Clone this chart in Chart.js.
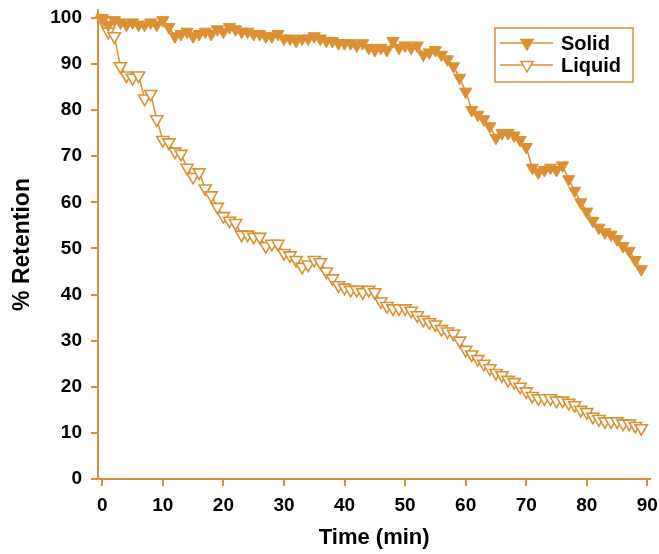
<!DOCTYPE html>
<html>
<head>
<meta charset="utf-8">
<title>% Retention vs Time</title>
<script src="https://cdn.jsdelivr.net/npm/chart.js@4.4.0/dist/chart.umd.min.js"></script>
<style>
    html, body { margin: 0; padding: 0; background: #fff; }
    #wrap { width: 659px; height: 554px; }
</style>
</head>
<body>
<div id="wrap"><canvas id="retentionChart" width="659" height="554"></canvas></div>
<script>
// Data (time in minutes, % retention)
const times = [
    0, 1, 2, 3, 4, 5, 6, 7, 8, 9,
    10, 11, 12, 13, 14, 15, 16, 17, 18, 19,
    20, 21, 22, 23, 24, 25, 26, 27, 28, 29,
    30, 31, 32, 33, 34, 35, 36, 37, 38, 39,
    40, 41, 42, 43, 44, 45, 46, 47, 48, 49,
    50, 51, 52, 53, 54, 55, 56, 57, 58, 59,
    60, 61, 62, 63, 64, 65, 66, 67, 68, 69,
    70, 71, 72, 73, 74, 75, 76, 77, 78, 79,
    80, 81, 82, 83, 84, 85, 86, 87, 88, 89
];
const solid = [
    100, 98.5, 99.5, 99, 98.5, 99, 98.5, 98.5, 99, 98.5,
    99.5, 98, 96, 96.5, 97, 96, 96.5, 97, 96.5, 97.5,
    97, 98, 97.5, 97, 97, 96.5, 96.5, 96, 96, 96.5,
    95.5, 95.5, 95, 95.5, 95.5, 96, 95.5, 95, 95, 94.5,
    94.5, 94.5, 94, 94.5, 93.5, 93, 93.5, 93, 95, 93.5,
    94, 93.5, 94, 92, 92.5, 93, 92, 91, 89.5, 87,
    84, 80, 79, 78, 76.5, 74, 75, 75, 74.5, 73.5,
    72, 67.5, 66.5, 67, 67.5, 67, 68, 65, 62.5, 60,
    58, 56, 54.5, 53.5, 53, 52, 50.5, 49.5, 47.5, 45.5
];
const liquid = [
    99.5, 97, 96, 89.5, 87.5, 87, 87.5, 82.5, 83.5, 78,
    73.5, 73, 71, 70.5, 67.5, 65.5, 66.5, 63, 61.5, 59,
    57, 56, 55.5, 53, 53, 52.5, 52.5, 50.5, 51, 51,
    49, 48.5, 47.5, 46, 46.5, 47.5, 47, 45, 43.5, 42,
    41.5, 41, 41, 40.5, 41, 40.5, 38.5, 37.5, 37, 37,
    37, 36.5, 35.5, 34.5, 34, 33.5, 32.5, 32, 31.5, 30,
    28, 27, 26, 25, 24, 23, 22.5, 21.5, 21, 20,
    19, 18, 17.5, 17.5, 17.5, 17, 17, 16.5, 16, 15,
    14.5, 13.5, 13, 12.5, 12.5, 12.5, 12, 12, 11.5, 11
];
const xTicks = [0, 10, 20, 30, 40, 50, 60, 70, 80, 90];
const yTicks = [0, 10, 20, 30, 40, 50, 60, 70, 80, 90, 100];

const orange = '#dc9034';
const fontFamily = '"Liberation Sans", Arial, Helvetica, sans-serif';

function toPoints(values) {
    return values.map((v, i) => ({ x: times[i], y: v }));
}

// Boxed legend with line + marker samples, drawn top right
const boxLegend = {
    id: 'boxLegend',
    afterDraw(chart) {
        const ctx = chart.ctx;
        const x0 = 495, y0 = 28, w = 138, h = 54;
        ctx.save();
        ctx.fillStyle = '#fff';
        ctx.fillRect(x0, y0, w, h);
        ctx.strokeStyle = orange;
        ctx.lineWidth = 1.5;
        ctx.strokeRect(x0, y0, w, h);

        chart.data.datasets.forEach((ds, i) => {
            const y = 43 + i * 22;
            ctx.strokeStyle = ds.borderColor;
            ctx.lineWidth = 1.5;
            ctx.beginPath();
            ctx.moveTo(500, y);
            ctx.lineTo(553, y);
            ctx.stroke();

            // down-pointing triangle like the data markers
            const r = 7, cx = 527;
            ctx.beginPath();
            ctx.moveTo(cx, y + r);
            ctx.lineTo(cx - r * 0.866, y - r / 2);
            ctx.lineTo(cx + r * 0.866, y - r / 2);
            ctx.closePath();
            ctx.fillStyle = ds.pointBackgroundColor;
            ctx.fill();
            ctx.strokeStyle = ds.pointBorderColor;
            ctx.lineWidth = 1.5;
            ctx.stroke();

            ctx.fillStyle = '#000';
            ctx.font = 'bold 20px ' + fontFamily;
            ctx.textBaseline = 'middle';
            ctx.textAlign = 'left';
            ctx.fillText(ds.label, 561, y + 1);
        });
        ctx.restore();
    }
};

const ctx = document.getElementById('retentionChart').getContext('2d');
new Chart(ctx, {
    type: 'line',
    data: {
        datasets: [
            {
                label: 'Solid',
                data: toPoints(solid),
                borderColor: orange,
                borderWidth: 1.5,
                pointStyle: 'triangle',
                rotation: 180,
                pointRadius: 7,
                pointBorderWidth: 1,
                pointBackgroundColor: orange,
                pointBorderColor: orange,
                clip: false,
                order: 1
            },
            {
                label: 'Liquid',
                data: toPoints(liquid),
                borderColor: orange,
                borderWidth: 1.5,
                pointStyle: 'triangle',
                rotation: 180,
                pointRadius: 7,
                pointBorderWidth: 1.6,
                pointBackgroundColor: '#fff',
                pointBorderColor: orange,
                clip: false,
                order: 2
            }
        ]
    },
    options: {
        responsive: false,
        animation: false,
        events: [],
        layout: { padding: { left: 0, right: 4, top: 10, bottom: 0 } },
        plugins: {
            legend: { display: false },
            tooltip: { enabled: false }
        },
        scales: {
            x: {
                type: 'linear',
                min: -0.7,
                max: 90.5,
                afterBuildTicks: scale => { scale.ticks = xTicks.map(v => ({ value: v })); },
                afterFit: scale => {
                    scale.height = 75;
                    scale.paddingRight = 0;
                    scale.paddingLeft = 0;
                },
                grid: { drawOnChartArea: false, drawTicks: true, tickLength: 7, color: orange, lineWidth: 2 },
                border: { color: orange, width: 2 },
                ticks: {
                    color: '#000',
                    padding: 8,
                    maxRotation: 0,
                    font: { family: fontFamily, size: 19, weight: 'bold' }
                },
                title: {
                    display: true,
                    text: 'Time (min)',
                    color: '#000',
                    padding: { top: 0, bottom: 3 },
                    font: { family: fontFamily, size: 22, weight: 'bold' }
                }
            },
            y: {
                min: 0,
                max: 101.7,
                afterBuildTicks: scale => { scale.ticks = yTicks.map(v => ({ value: v })); },
                afterFit: scale => {
                    scale.width = 98;
                    scale.paddingTop = 0;
                    scale.paddingBottom = 0;
                },
                grid: { drawOnChartArea: false, drawTicks: true, tickLength: 7, color: orange, lineWidth: 2 },
                border: { color: orange, width: 2 },
                ticks: {
                    color: '#000',
                    padding: 9,
                    font: { family: fontFamily, size: 19, weight: 'bold' }
                },
                title: {
                    display: true,
                    text: '% Retention',
                    color: '#000',
                    padding: { top: 9, bottom: 0 },
                    font: { family: fontFamily, size: 23, weight: 'bold' }
                }
            }
        }
    },
    plugins: [boxLegend]
});
</script>
</body>
</html>
